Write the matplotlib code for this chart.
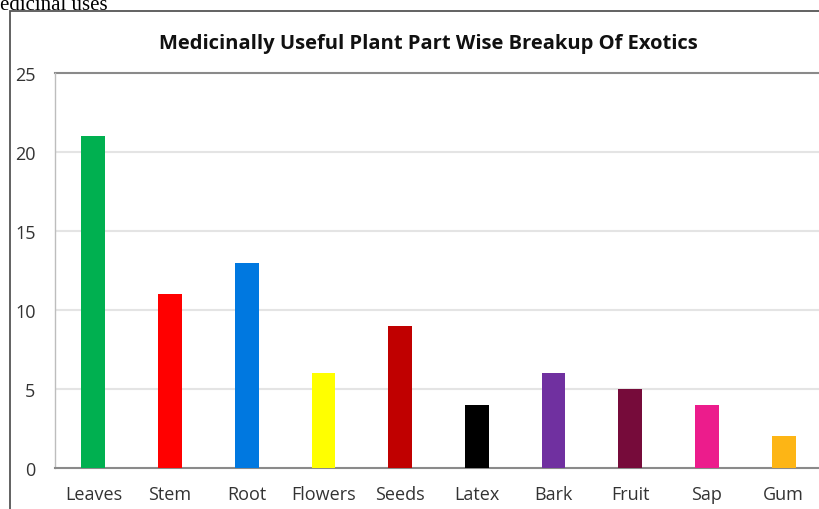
import matplotlib
matplotlib.use("Agg")
import matplotlib.pyplot as plt
from matplotlib.patches import Rectangle

categories = ["Leaves", "Stem", "Root", "Flowers", "Seeds", "Latex", "Bark", "Fruit", "Sap", "Gum"]
values = [21, 11, 13, 6, 9, 4, 6, 5, 4, 2]
colors = ["#00B050", "#FF0000", "#0078E0", "#FFFF00", "#C00000", "#000000",
          "#7030A0", "#760B3A", "#EC1C8C", "#FDB515"]
yticks = [0, 5, 10, 15, 20, 25]
title = "Medicinally Useful Plant Part Wise Breakup Of Exotics"
caption = "edicinal uses"

W, H = 820, 510
fig = plt.figure(figsize=(W / 100, H / 100), dpi=100)
fig.patch.set_facecolor("white")

# outer frame
fig.patches.append(Rectangle((10 / W, -0.1), 1.2, 1 - 12 / H + 0.1, transform=fig.transFigure,
                             fill=False, edgecolor="#555555", linewidth=1.3, zorder=0))

fig.text(0.0, 1 - 10 / H, caption, family="Liberation Serif", fontsize=15, color="black",
         ha="left", va="baseline")

ax = fig.add_axes([55 / W, 1 - 469 / H, (822 - 55) / W, (469 - 74) / H])
x = list(range(len(categories)))
ax.bar(x, values, width=0.31, color=colors, zorder=3)
ax.set_xlim(-0.5, len(categories) - 0.5)
ax.set_ylim(0, 25)
ax.set_yticks(yticks)
ax.set_yticklabels([str(t) for t in yticks])
ax.set_xticks(x)
ax.set_xticklabels(categories)
for t in yticks[1:-1]:
    ax.axhline(t, color="#E4E4E4", linewidth=1.5, zorder=1)
ax.axhline(25, color="#8A8A8A", linewidth=1.5, zorder=2, clip_on=False)

for s in ["top", "right"]:
    ax.spines[s].set_visible(False)
ax.spines["bottom"].set_color("#8A8A8A")
ax.spines["bottom"].set_linewidth(1.5)
ax.spines["left"].set_color("#BDBDBD")
ax.spines["left"].set_linewidth(1.0)
ax.tick_params(axis="both", length=0, labelsize=13, labelcolor="#333333")
ax.tick_params(axis="x", pad=12)
ax.tick_params(axis="y", pad=14)
for lab in ax.get_xticklabels() + ax.get_yticklabels():
    lab.set_family("Open Sans")

fig.text(428 / W, 1 - 44 / H, title, family="Open Sans", fontweight="bold", fontsize=14.5,
         color="#111111", ha="center", va="center")

fig.savefig("out.png", dpi=100, facecolor="white")
